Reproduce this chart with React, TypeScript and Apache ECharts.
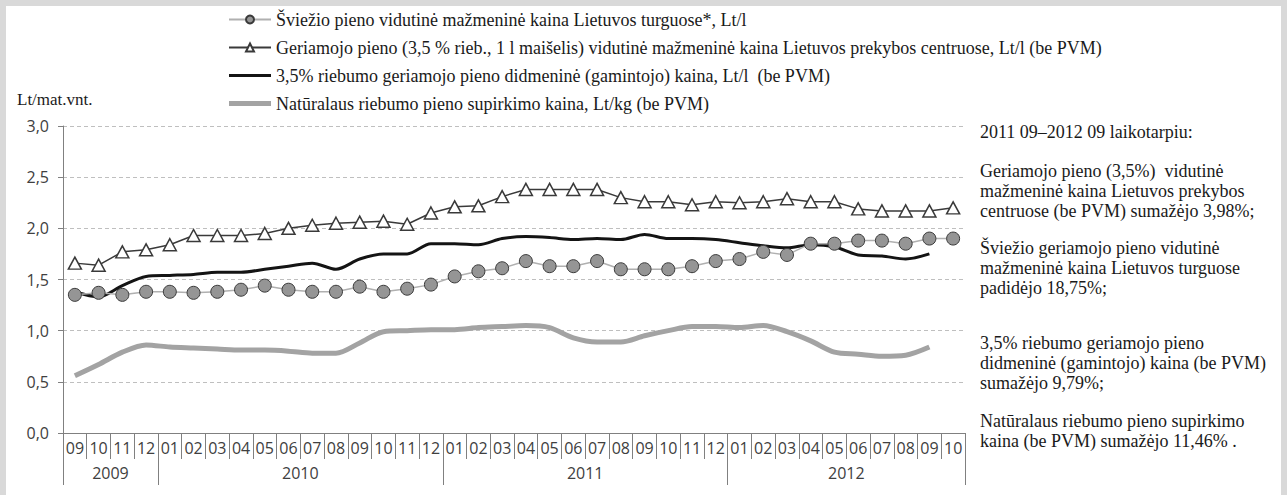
import React, { useEffect, useRef } from "react";
import * as echarts from "echarts";

const monthLabels = [
  "09", "10", "11", "12",
  "01", "02", "03", "04", "05", "06", "07", "08", "09", "10", "11", "12",
  "01", "02", "03", "04", "05", "06", "07", "08", "09", "10", "11", "12",
  "01", "02", "03", "04", "05", "06", "07", "08", "09", "10",
];
const years = ["2009", "2010", "2011", "2012"];
const yearBounds = [0, 4, 16, 28, 38];

const seriesNames = [
  "Šviežio pieno vidutinė mažmeninė kaina Lietuvos turguose*, Lt/l",
  "Geriamojo pieno (3,5 % rieb., 1 l maišelis) vidutinė mažmeninė kaina Lietuvos prekybos centruose, Lt/l (be PVM)",
  "3,5% riebumo geriamojo pieno didmeninė (gamintojo) kaina, Lt/l  (be PVM)",
  "Natūralaus riebumo pieno supirkimo kaina, Lt/kg (be PVM)",
];

const freshMarket = [
  1.35, 1.37, 1.35, 1.38, 1.38, 1.37, 1.38, 1.40, 1.44, 1.40, 1.38, 1.38, 1.43, 1.38, 1.41, 1.45,
  1.53, 1.58, 1.61, 1.68, 1.63, 1.63, 1.68, 1.60, 1.60, 1.60, 1.63, 1.68, 1.70, 1.77, 1.74, 1.85,
  1.85, 1.88, 1.88, 1.85, 1.90, 1.90,
];
const retailCentres = [
  1.66, 1.64, 1.77, 1.79, 1.84, 1.93, 1.93, 1.93, 1.95, 2.00, 2.03, 2.05, 2.06, 2.07, 2.04, 2.15,
  2.21, 2.22, 2.31, 2.38, 2.38, 2.38, 2.38, 2.30, 2.26, 2.26, 2.23, 2.26, 2.25, 2.26, 2.29, 2.26,
  2.26, 2.19, 2.17, 2.17, 2.17, 2.20,
];
const wholesale = [
  1.38, 1.33, 1.44, 1.53, 1.54, 1.55, 1.57, 1.57, 1.60, 1.63, 1.66, 1.60, 1.70, 1.75, 1.75, 1.85,
  1.85, 1.84, 1.90, 1.92, 1.91, 1.89, 1.90, 1.89, 1.94, 1.90, 1.90, 1.89, 1.86, 1.83, 1.81, 1.84,
  1.82, 1.74, 1.73, 1.70, 1.75, null,
];
const purchase = [
  0.56, 0.67, 0.79, 0.86, 0.84, 0.83, 0.82, 0.81, 0.81, 0.80, 0.78, 0.78, 0.88, 0.99, 1.00, 1.01,
  1.01, 1.03, 1.04, 1.05, 1.03, 0.93, 0.89, 0.89, 0.95, 1.00, 1.04, 1.04, 1.03, 1.05, 0.99, 0.90,
  0.79, 0.77, 0.75, 0.76, 0.84, null,
];

const notes = [
  "2011 09–2012 09 laikotarpiu:",
  "Geriamojo pieno (3,5%)  vidutinė\nmažmeninė kaina Lietuvos prekybos\ncentruose (be PVM) sumažėjo 3,98%;",
  "Šviežio geriamojo pieno vidutinė\nmažmeninė kaina Lietuvos turguose\npadidėjo 18,75%;",
  "3,5% riebumo geriamojo pieno\ndidmeninė (gamintojo) kaina (be PVM)\nsumažėjo 9,79%;",
  "Natūralaus riebumo pieno supirkimo\nkaina (be PVM) sumažėjo 11,46% .",
];
const noteTops = [122, 161, 238, 333, 411];

const yearSlots: string[] = [];
for (let i = 0; i <= monthLabels.length; i++) yearSlots.push("");
const yearCenters: number[] = [];
years.forEach((y, k) => {
  const c = Math.round((yearBounds[k] + yearBounds[k + 1]) / 2);
  yearSlots[c] = y;
  yearCenters.push(c);
});

const axisGray = "#808080";
const tickFont = "Open Sans";
const serif = "Liberation Serif";

export default function App() {
  const ref = useRef<HTMLDivElement>(null);
  useEffect(() => {
    document.body.style.margin = "0";
    const chart = echarts.init(ref.current!, null, { renderer: "svg" });
    chart.setOption({
      animation: false,
      backgroundColor: "#ffffff",
      grid: { left: 63, right: 322, top: 126, bottom: 62, containLabel: false },
      legend: {
        orient: "vertical",
        left: 223,
        top: 5,
        itemWidth: 42,
        itemHeight: 10,
        itemGap: 9,
        textStyle: { fontFamily: serif, fontSize: 18, color: "#1a1a1a", lineHeight: 19 },
        data: [
          { name: seriesNames[0] },
          { name: seriesNames[1] },
          { name: seriesNames[2], icon: "path://M0,0H42V3H0Z" },
          { name: seriesNames[3], icon: "path://M0,0H42V5H0Z" },
        ],
      },
      xAxis: [
        {
          type: "category",
          data: monthLabels,
          boundaryGap: true,
          position: "bottom",
          axisLine: { show: true, lineStyle: { color: axisGray } },
          axisTick: { show: true, length: 26, interval: 0, lineStyle: { color: axisGray } },
          axisLabel: { interval: 0, margin: 7, fontSize: 16, fontFamily: tickFont, color: "#404040" },
          splitLine: { show: false },
        },
        {
          type: "category",
          data: yearSlots,
          boundaryGap: false,
          position: "bottom",
          axisLine: { show: false },
          axisTick: {
            show: true,
            length: 52,
            interval: (i: number) => yearBounds.includes(i),
            lineStyle: { color: axisGray },
          },
          axisLabel: {
            interval: (i: number) => yearCenters.includes(i),
            margin: 32,
            fontSize: 16,
            fontFamily: tickFont,
            color: "#404040",
          },
          splitLine: { show: false },
        },
      ],
      yAxis: {
        type: "value",
        min: 0,
        max: 3,
        interval: 0.5,
        axisLine: { show: true, lineStyle: { color: axisGray } },
        axisTick: { show: true, length: 5, lineStyle: { color: axisGray } },
        axisLabel: {
          margin: 14,
          fontSize: 16,
          fontFamily: tickFont,
          color: "#404040",
          formatter: (v: number) => v.toFixed(1).replace(".", ","),
        },
        splitLine: { show: true, lineStyle: { type: [4, 3], color: "#bfbfbf", width: 1 } },
      },
      series: [
        {
          name: seriesNames[0],
          type: "line",
          data: freshMarket,
          symbol: "circle",
          symbolSize: 13,
          lineStyle: { color: "#b0b0b0", width: 1.5 },
          itemStyle: { color: "#959595", borderColor: "#3a3a3a", borderWidth: 1 },
          z: 4,
        },
        {
          name: seriesNames[1],
          type: "line",
          data: retailCentres,
          symbol: "triangle",
          symbolSize: [13, 12],
          lineStyle: { color: "#3a3a3a", width: 1.5 },
          itemStyle: { color: "#ffffff", borderColor: "#3a3a3a", borderWidth: 1.5 },
          z: 4,
        },
        {
          name: seriesNames[2],
          type: "line",
          data: wholesale,
          smooth: 0.3,
          showSymbol: false,
          symbol: "none",
          lineStyle: { color: "#141414", width: 3 },
          itemStyle: { color: "#141414" },
          z: 3,
        },
        {
          name: seriesNames[3],
          type: "line",
          data: purchase,
          smooth: 0.3,
          showSymbol: false,
          symbol: "none",
          lineStyle: { color: "#a3a3a3", width: 5 },
          itemStyle: { color: "#a3a3a3" },
          z: 2,
        },
      ],
      graphic: [
        {
          type: "rect",
          silent: true,
          shape: { x: 3, y: 3, width: 1281, height: 510 },
          style: { fill: "none", stroke: "#d9d9d9", lineWidth: 6 },
          z: 100,
        },
        {
          type: "text",
          left: 17,
          top: 91,
          style: { text: "Lt/mat.vnt.", fontFamily: serif, fontSize: 17, fill: "#1a1a1a" },
        },
        ...notes.map((t, i) => ({
          type: "text",
          left: 980,
          top: noteTops[i],
          style: { text: t, fontFamily: serif, fontSize: 18, fill: "#1a1a1a", lineHeight: 20 },
        })),
      ],
    });
    return () => chart.dispose();
  }, []);
  return <div ref={ref} style={{ width: 1287, height: 495 }} />;
}
